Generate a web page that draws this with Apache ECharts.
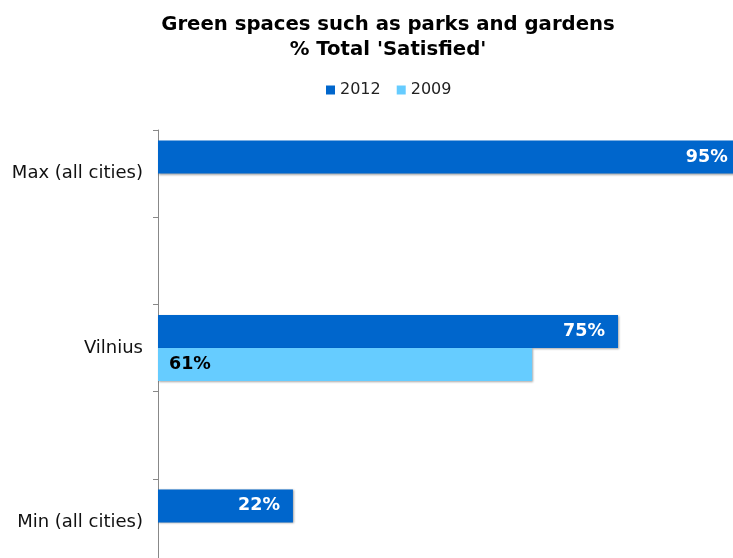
<!DOCTYPE html>
<html><head><meta charset="utf-8">
<script src="https://cdn.jsdelivr.net/npm/echarts@6/dist/echarts.min.js"></script>
<style>html,body{margin:0;padding:0;background:#fff;overflow:hidden;width:733px;height:558px}#c{width:733px;height:566px}</style>
</head><body><div id="c"></div>
<script>
var categories = ["Max (all cities)", "", "Vilnius", "", "Min (all cities)"];
var series2012 = [95, null, 75, null, 22];
var series2009 = [null, null, 61, null, null];
var seriesNames = ["2012", "2009"];

var chart = echarts.init(document.getElementById('c'));
var fontFam = "DejaVu Sans";
chart.setOption({
  animation: false,
  title: {
    text: "Green spaces such as parks and gardens\n% Total 'Satisfied'",
    left: 383, textAlign: 'center', top: 7,
    textStyle: {fontFamily: fontFam, fontSize: 19.7, fontWeight: 'bold', color: '#000', lineHeight: 25}
  },
  legend: {
    data: seriesNames, top: 77, left: 321,
    icon: 'rect', itemWidth: 9, itemHeight: 9, itemGap: 16,
    textStyle: {fontFamily: fontFam, fontSize: 16, color: '#222'}
  },
  grid: {left: 158, top: 130, right: 0, bottom: 0},
  xAxis: {type: 'value', min: 0, max: 93.75, show: false},
  yAxis: {
    type: 'category', data: categories, inverse: true,
    axisLine: {show: true, lineStyle: {color: '#888', width: 1}},
    axisTick: {show: true, length: 5, interval: 0, lineStyle: {color: '#888'}},
    axisLabel: {interval: 0, margin: 15, fontFamily: fontFam, fontSize: 18, color: '#111'}
  },
  series: [
    {
      name: seriesNames[0], type: 'bar', data: series2012,
      barWidth: 33, barGap: '0%', clip: false,
      itemStyle: {color: '#0066CC', shadowColor: 'rgba(0,0,0,0.35)', shadowBlur: 2, shadowOffsetX: 1, shadowOffsetY: 1},
      label: {show: true, position: 'insideRight', distance: 13, formatter: '{c}%',
        fontFamily: fontFam, fontSize: 17.5, fontWeight: 'bold', color: '#fff'}
    },
    {
      name: seriesNames[1], type: 'bar', data: series2009,
      barWidth: 33, barGap: '0%', clip: false,
      itemStyle: {color: '#66CCFF', shadowColor: 'rgba(0,0,0,0.35)', shadowBlur: 2, shadowOffsetX: 1, shadowOffsetY: 1},
      label: {show: true, position: 'insideLeft', distance: 11, formatter: '{c}%',
        fontFamily: fontFam, fontSize: 17.5, fontWeight: 'bold', color: '#000'}
    }
  ]
});
</script></body></html>
